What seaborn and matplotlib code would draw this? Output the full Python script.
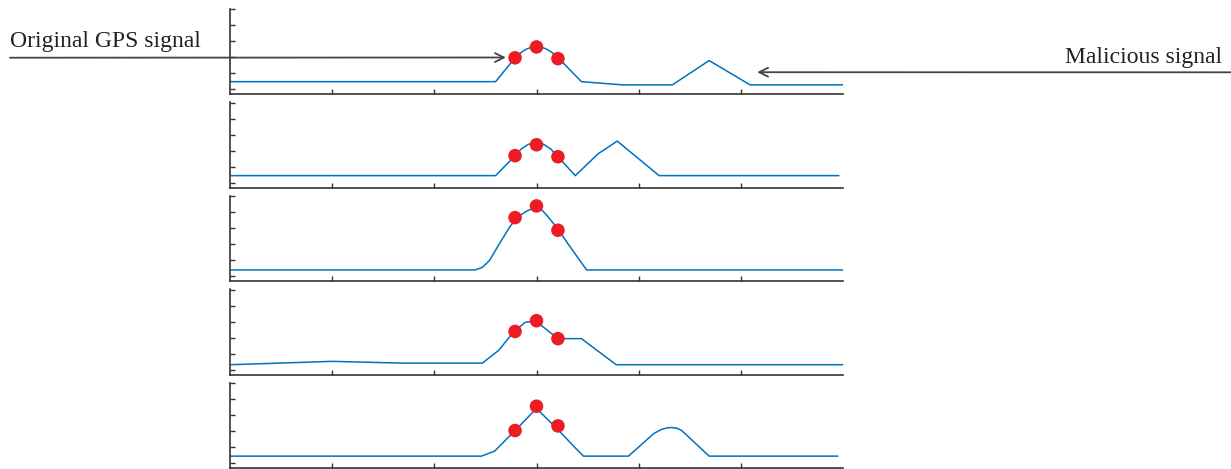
import matplotlib
matplotlib.use("Agg")
import matplotlib.pyplot as plt
import seaborn as sns
import pandas as pd

# ---- data (x in chip units, y in arbitrary amplitude units) ----
p1_x = [-3, -0.40, -0.21, -0.15, -0.10, -0.05, 0, 0.05, 0.10, 0.15, 0.22, 0.44, 0.84, 1.33, 1.69, 2.09, 3.0]
p1_y = [0.47, 0.47, 1.96, 2.30, 2.50, 2.62, 2.66, 2.62, 2.50, 2.30, 1.91, 0.47, 0.27, 0.27, 1.79, 0.27, 0.27]

p2_x = [-3, -0.40, -0.22, -0.15, -0.08, 0, 0.07, 0.14, 0.21, 0.38, 0.60, 0.79, 1.20, 2.96]
p2_y = [0.44, 0.44, 1.62, 2.10, 2.40, 2.50, 2.40, 2.10, 1.62, 0.44, 1.79, 2.60, 0.44, 0.44]

p3_x = [-3, -0.60, -0.53, -0.46, -0.36, -0.26, -0.21, -0.16, -0.10, -0.05, 0, 0.05, 0.095, 0.21, 0.30, 0.40, 0.49, 3.0]
p3_y = [0.39, 0.39, 0.55, 0.98, 2.06, 3.10, 3.50, 3.80, 4.05, 4.20, 4.25, 4.15, 3.85, 2.95, 2.10, 1.20, 0.39, 0.39]

p4_x = [-3, -2.0, -1.31, -0.53, -0.37, -0.22, -0.11, -0.05, 0, 0.21, 0.44, 0.78, 3.0]
p4_y = [0.31, 0.52, 0.41, 0.41, 1.21, 2.39, 2.96, 3.0, 3.0, 1.94, 1.94, 0.31, 0.31]

p5_x = [-3, -0.54, -0.41, -0.21, 0, 0.21, 0.37, 0.46, 0.90, 1.15, 1.22, 1.28, 1.32, 1.37, 1.42, 1.69, 2.95]
p5_y = [0.44, 0.44, 0.75, 2.04, 3.42, 2.10, 1.02, 0.44, 0.44, 1.86, 2.10, 2.21, 2.23, 2.19, 2.05, 0.44, 0.44]

dot_x = [-0.21, 0.0, 0.21]
dots_y = [
    [1.96, 2.64, 1.91],
    [1.69, 2.37, 1.62],
    [3.66, 4.39, 2.87],
    [2.39, 3.06, 1.94],
    [2.04, 3.56, 2.33],
]

x_ticks = [-2, -1, 0, 1, 2]
y_ticks = [0, 1, 2, 3, 4, 5]

label_original = "Original GPS signal"
label_malicious = "Malicious signal"

panels = [(p1_x, p1_y), (p2_x, p2_y), (p3_x, p3_y), (p4_x, p4_y), (p5_x, p5_y)]

# ---- styling ----
sns.set_style("white")
plt.rcParams["font.family"] = ["Liberation Serif", "DejaVu Serif"]

W, H, DPI = 1231, 469, 100
fig = plt.figure(figsize=(W / DPI, H / DPI), dpi=DPI)

line_color = "#0072BD"
dot_color = "#ED1C24"
spine_color = "#333333"

left = 230 / W
width = 613 / W
height = 85.6 / H
axes = []
for k, ((lx, ly), dy) in enumerate(zip(panels, dots_y)):
    bottom_px = 94.3 + 93.5 * k
    ax = fig.add_axes([left, 1 - bottom_px / H, width, height])
    df = pd.DataFrame({"x": lx, "y": ly})
    sns.lineplot(data=df, x="x", y="y", ax=ax, color=line_color, linewidth=1.1,
                 sort=False, estimator=None)
    ddf = pd.DataFrame({"x": dot_x, "y": dy})
    sns.scatterplot(data=ddf, x="x", y="y", ax=ax, color=dot_color, s=95,
                    edgecolor="none", zorder=5)
    ax.set_xlim(-3, 3)
    ax.set_ylim(-0.32, 5.03)
    ax.set_xticks(x_ticks)
    ax.set_yticks(y_ticks)
    ax.set_xticklabels([])
    ax.set_yticklabels([])
    ax.set_xlabel("")
    ax.set_ylabel("")
    for s in ["top", "right"]:
        ax.spines[s].set_visible(False)
    for s in ["left", "bottom"]:
        ax.spines[s].set_color(spine_color)
        ax.spines[s].set_linewidth(1.2)
    ax.tick_params(direction="in", length=3.6, width=1.0, color=spine_color,
                   left=True, bottom=True)
    ax.patch.set_alpha(0)
    axes.append(ax)

ax1 = axes[0]
# Original GPS signal annotation
fig.text(10 / W, 1 - 46.5 / H, label_original, fontsize=17, color="#222222",
         ha="left", va="baseline")
ax1.annotate("", xy=(-0.30, 1.98), xycoords="data",
             xytext=(10 / W, 1 - 57.7 / H), textcoords="figure fraction",
             arrowprops=dict(arrowstyle="->", color="#444444", lw=1.3,
                             shrinkA=0, shrinkB=0, mutation_scale=16))
# Malicious signal annotation
fig.text(1222 / W, 1 - 62.5 / H, label_malicious, fontsize=17, color="#222222",
         ha="right", va="baseline")
ax1.annotate("", xy=(2.16, 1.06), xycoords="data",
             xytext=(1.0, 1 - 72.3 / H), textcoords="figure fraction",
             arrowprops=dict(arrowstyle="->", color="#444444", lw=1.3,
                             shrinkA=0, shrinkB=0, mutation_scale=16),
             annotation_clip=False)

fig.savefig("out.png", dpi=DPI)
